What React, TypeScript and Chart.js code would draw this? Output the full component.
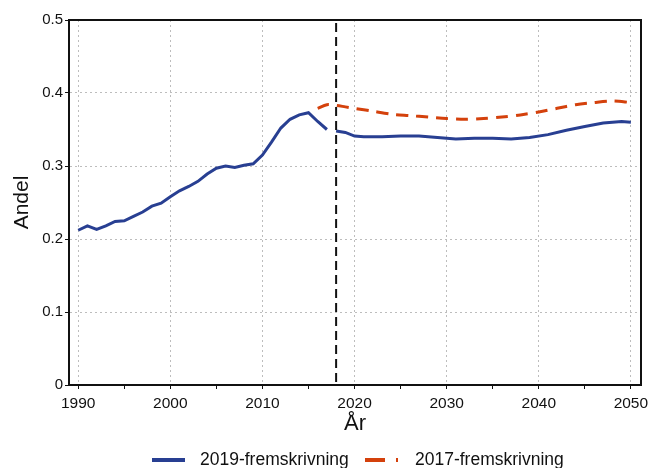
import React, { useEffect, useRef } from "react";
import { Chart, registerables } from "chart.js";

Chart.register(...registerables);

// ---- Data ----
const histYears = [1990, 1991, 1992, 1993, 1994, 1995, 1996, 1997, 1998, 1999, 2000, 2001, 2002, 2003, 2004, 2005, 2006, 2007, 2008, 2009, 2010, 2011, 2012, 2013, 2014, 2015, 2016, 2017];
const histValues = [0.212, 0.218, 0.213, 0.218, 0.224, 0.225, 0.231, 0.237, 0.245, 0.249, 0.258, 0.266, 0.272, 0.279, 0.289, 0.297, 0.300, 0.298, 0.301, 0.303, 0.315, 0.333, 0.352, 0.364, 0.370, 0.373, 0.361, 0.350];

const proj2019Years = [2018, 2019, 2020, 2021, 2023, 2025, 2027, 2029, 2031, 2033, 2035, 2037, 2039, 2041, 2043, 2045, 2047, 2049, 2050];
const proj2019Values = [0.348, 0.346, 0.341, 0.340, 0.340, 0.341, 0.341, 0.339, 0.337, 0.338, 0.338, 0.337, 0.339, 0.343, 0.349, 0.354, 0.359, 0.361, 0.360];

const proj2017Years = [2016, 2017, 2018, 2019, 2020, 2022, 2024, 2026, 2028, 2030, 2032, 2034, 2036, 2038, 2040, 2042, 2044, 2046, 2048, 2050];
const proj2017Values = [0.379, 0.384, 0.383, 0.381, 0.379, 0.375, 0.371, 0.369, 0.367, 0.365, 0.364, 0.365, 0.367, 0.370, 0.374, 0.379, 0.384, 0.387, 0.389, 0.387];

const seriesLabels = ["2019-fremskrivning", "2017-fremskrivning"];
const markerYear = 2018;

const xMajorTicks = [1990, 2000, 2010, 2020, 2030, 2040, 2050];
const xMinorTicks = [1995, 2005, 2015, 2025, 2035, 2045];
const yTicks = [0, 0.1, 0.2, 0.3, 0.4, 0.5];

const BLUE = "#283f92";
const ORANGE = "#d4410c";
const FONT = "'Liberation Sans', Arial, sans-serif";

function pts(xs: number[], ys: number[]) {
  return xs.map((x, i) => ({ x, y: ys[i] }));
}

const framePlugin = {
  id: "frame",
  afterDraw(chart: any) {
    const { ctx, chartArea } = chart;
    ctx.save();
    ctx.strokeStyle = "#111";
    ctx.lineWidth = 2;
    ctx.strokeRect(chartArea.left, chartArea.top, chartArea.right - chartArea.left, chartArea.bottom - chartArea.top);
    ctx.restore();
  },
};

const markerPlugin = {
  id: "marker",
  afterDatasetsDraw(chart: any) {
    const { ctx, chartArea } = chart;
    const x = chart.scales.x.getPixelForValue(markerYear);
    ctx.save();
    ctx.strokeStyle = "#111";
    ctx.lineWidth = 2;
    ctx.setLineDash([9, 5]);
    ctx.beginPath();
    ctx.moveTo(x, chartArea.top + 3);
    ctx.lineTo(x, chartArea.bottom);
    ctx.stroke();
    ctx.restore();
  },
};

const legendPlugin = {
  id: "customLegend",
  afterDraw(chart: any) {
    const { ctx } = chart;
    const items = [
      { text: seriesLabels[0], color: BLUE, dash: [] as number[], x: 152, tx: 200 },
      { text: seriesLabels[1], color: ORANGE, dash: [20, 11], x: 365, tx: 415 },
    ];
    const y = 460;
    ctx.save();
    ctx.font = `17.5px ${FONT}`;
    ctx.textBaseline = "middle";
    ctx.fillStyle = "#111";
    for (const it of items) {
      ctx.strokeStyle = it.color;
      ctx.lineWidth = 4;
      ctx.setLineDash(it.dash);
      ctx.beginPath();
      ctx.moveTo(it.x, y);
      ctx.lineTo(it.x + 33, y);
      ctx.stroke();
      ctx.setLineDash([]);
      ctx.fillText(it.text, it.tx, y);
    }
    ctx.restore();
  },
};

export default function App() {
  const ref = useRef<HTMLCanvasElement>(null);
  useEffect(() => {
    document.body.style.margin = "0";
    const chart = new Chart(ref.current!, {
      type: "line",
      data: {
        datasets: [
          {
            label: seriesLabels[0],
            data: pts(histYears, histValues),
            borderColor: BLUE,
            borderWidth: 3,
            pointRadius: 0,
            tension: 0,
          },
          {
            label: seriesLabels[0] + " ",
            data: pts(proj2019Years, proj2019Values),
            borderColor: BLUE,
            borderWidth: 3,
            pointRadius: 0,
            tension: 0,
          },
          {
            label: seriesLabels[1],
            data: pts(proj2017Years, proj2017Values),
            borderColor: ORANGE,
            borderWidth: 3,
            borderDash: [12, 8],
            pointRadius: 0,
            tension: 0.3,
          },
        ],
      },
      options: {
        responsive: false,
        animation: false,
        layout: { padding: { top: 20, right: 9, left: 0, bottom: 0 } },
        plugins: { legend: { display: false }, tooltip: { enabled: false } },
        scales: {
          x: {
            type: "linear",
            min: 1989,
            max: 2051.1,
            afterBuildTicks: (scale: any) => {
              scale.ticks = [...xMajorTicks, ...xMinorTicks].sort((a, b) => a - b).map((v) => ({ value: v }));
            },
            afterFit: (scale: any) => {
              scale.height = 83;
              scale.paddingLeft = 0;
              scale.paddingRight = 0;
            },
            ticks: {
              autoSkip: false,
              maxRotation: 0,
              padding: 5,
              color: "#111",
              font: { family: FONT, size: 15.5 },
              callback: (v: any) => (xMajorTicks.includes(Number(v)) ? String(v) : ""),
            },
            grid: {
              color: (c: any) => (c.tick && xMajorTicks.includes(c.tick.value) ? "#bdbdbd" : "rgba(0,0,0,0)"),
              tickColor: "#111",
              tickLength: 4,
              lineWidth: 1,
            },
            border: { display: true, color: "#111", width: 2, dash: [2, 3] },
            title: {
              display: true,
              text: "År",
              color: "#111",
              font: { family: FONT, size: 22 },
              padding: { top: 0, bottom: 31 },
            },
          },
          y: {
            min: 0,
            max: 0.5,
            afterBuildTicks: (scale: any) => {
              scale.ticks = yTicks.map((v) => ({ value: v }));
            },
            afterFit: (scale: any) => {
              scale.width = 69;
            },
            ticks: {
              padding: 2,
              color: "#111",
              font: { family: FONT, size: 15 },
              callback: (v: any) => (Number(v) === 0 ? "0" : Number(v).toFixed(1)),
            },
            grid: {
              color: "#bdbdbd",
              tickColor: "#111",
              tickLength: 4,
              lineWidth: 1,
            },
            border: { display: true, color: "#111", width: 2, dash: [2, 3] },
            title: {
              display: true,
              text: "Andel",
              color: "#111",
              font: { family: FONT, size: 21 },
              padding: { top: 10, bottom: 0 },
            },
          },
        },
      },
      plugins: [markerPlugin, framePlugin, legendPlugin],
    } as any);
    return () => chart.destroy();
  }, []);
  return (
    <div style={{ width: 650, height: 468 }}>
      <canvas ref={ref} width={650} height={468} />
    </div>
  );
}
